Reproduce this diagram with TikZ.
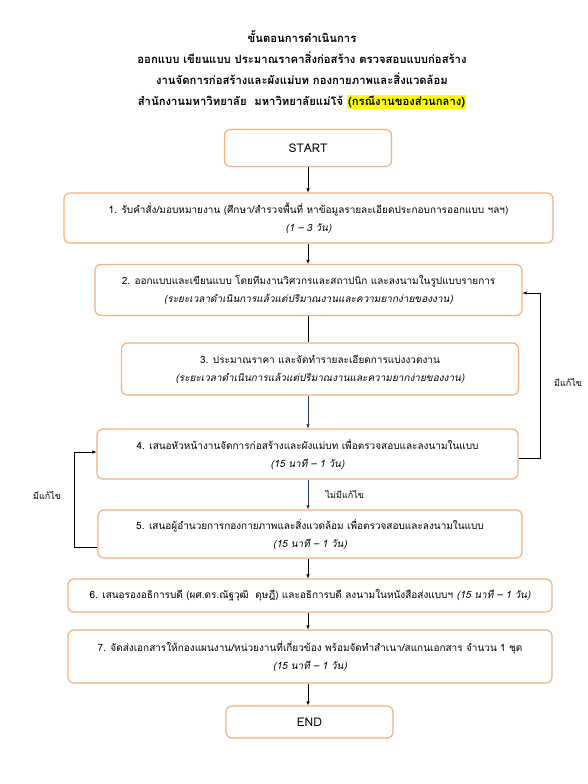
\documentclass[tikz,border=0pt]{standalone}
\usepackage{fontspec}
\setmainfont{Loma}[Script=Thai]
\usetikzlibrary{arrows.meta, positioning, shadows}
\definecolor{boxorange}{HTML}{F4B183}
\definecolor{flownavy}{HTML}{1F3864}
\definecolor{markyellow}{HTML}{FFFF00}

\begin{document}
\begin{tikzpicture}[x=1pt, y=-1pt,
  stepbox/.style={rectangle, rounded corners=6pt, draw=boxorange, line width=1.2pt, fill=white, align=center, font=\fontsize{10}{18}\selectfont, inner sep=0pt},
  endbox/.style={stepbox, minimum width=167pt, minimum height=37pt, font=\fontsize{12}{14}\selectfont},
  flow/.style={-{Latex[length=4pt,width=3.5pt]}, line width=0.6pt},
  note/.style={font=\fontsize{9}{10}\selectfont}
]
  \useasboundingbox (0,0) rectangle (587,784);

  % title
  \node[font=\bfseries\fontsize{11.3}{21}\selectfont, align=center] (title) at (302,70)
    {ขั้นตอนการดำเนินการ\\
     ออกแบบ เขียนแบบ ประมาณราคาสิ่งก่อสร้าง ตรวจสอบแบบก่อสร้าง\\
     งานจัดการก่อสร้างและผังแม่บท กองกายภาพและสิ่งแวดล้อม\\
     สำนักงานมหาวิทยาลัย~~มหาวิทยาลัยแม่โจ้ {\setlength\fboxsep{1pt}\colorbox{markyellow}{(กรณีงานของส่วนกลาง)}}};

  % steps
  \node[endbox] (start) at (308,148) {START};
  \node[stepbox, minimum width=489pt, minimum height=50pt] (s1) at (308.5,218)
    {1. รับคำสั่ง/มอบหมายงาน (ศึกษา/สำรวจพื้นที่ หาข้อมูลรายละเอียดประกอบการออกแบบ ฯลฯ)\\ \textit{(1 – 3 วัน)}};
  \node[stepbox, minimum width=427pt, minimum height=51pt] (s2) at (308.5,290)
    {2. ออกแบบและเขียนแบบ โดยทีมงานวิศวกรและสถาปนิก และลงนามในรูปแบบรายการ\\ \textit{(ระยะเวลาดำเนินการแล้วแต่ปริมาณงานและความยากง่ายของงาน)}};
  \node[stepbox, minimum width=397pt, minimum height=52pt] (s3) at (320,369)
    {3. ประมาณราคา และจัดทำรายละเอียดการแบ่งงวดงาน\\ \textit{(ระยะเวลาดำเนินการแล้วแต่ปริมาณงานและความยากง่ายของงาน)}};
  \node[stepbox, minimum width=421pt, minimum height=50pt] (s4) at (307.5,454)
    {4. เสนอหัวหน้างานจัดการก่อสร้างและผังแม่บท เพื่อตรวจสอบและลงนามในแบบ\\ \textit{(15 นาที – 1 วัน)}};
  \node[stepbox, minimum width=424pt, minimum height=48pt] (s5) at (310,534)
    {5. เสนอผู้อำนวยการกองกายภาพและสิ่งแวดล้อม เพื่อตรวจสอบและลงนามในแบบ\\ \textit{(15 นาที – 1 วัน)}};
  \node[stepbox, minimum width=484pt, minimum height=33pt] (s6) at (310,595.5)
    {6. เสนอรองอธิการบดี (ผศ.ดร.ณัฐวุฒิ~~ดุษฎี) และอธิการบดี ลงนามในหนังสือส่งแบบฯ \textit{(15 นาที – 1 วัน)}};
  \node[stepbox, minimum width=484pt, minimum height=53pt] (s7) at (310,656.5)
    {7. จัดส่งเอกสารให้กองแผนงาน/หน่วยงานที่เกี่ยวข้อง พร้อมจัดทำสำเนา/สแกนเอกสาร จำนวน 1 ชุด\\ \textit{(15 นาที – 1 วัน)}};
  \node[endbox, minimum height=32pt] (end) at (309.5,722) {END};

  % main flow
  \draw[flow] (start.south) -- (start.south |- s1.north);
  \draw[flow] (s1.south -| start.south) -- (start.south |- s2.north);
  \draw[line width=0.6pt] (s2.south -| start.south) -- (start.south |- s3.north);
  \draw[flow, flownavy] (s3.south -| start.south) -- (start.south |- s4.north);
  \draw[flow, flownavy] (s4.south -| start.south) -- node[note, right=14pt, black] {ไม่มีแก้ไข} (start.south |- s5.north);
  \draw[flow] (s5.south -| start.south) -- (start.south |- s6.north);
  \draw[flow] (s6.south -| start.south) -- (start.south |- s7.north);
  \draw[flow] (s7.south -| start.south) -- (start.south |- end.north);

  % corrections
  \coordinate (r4) at ([yshift=-4pt]s4.east);
  \coordinate (r2) at ([yshift=-3pt]s2.east);
  \draw[flow] (r4) -- (540,458) |- (r2);
  \node[note] (fixr) at (568,382) {มีแก้ไข};
  \coordinate (l5) at ([yshift=-13pt]s5.west);
  \coordinate (l4) at ([yshift=2pt]s4.west);
  \draw[flow] (l5) -- (74,547) |- (l4);
  \node[note] (fixl) at (47,495) {มีแก้ไข};
\end{tikzpicture}
\end{document}
